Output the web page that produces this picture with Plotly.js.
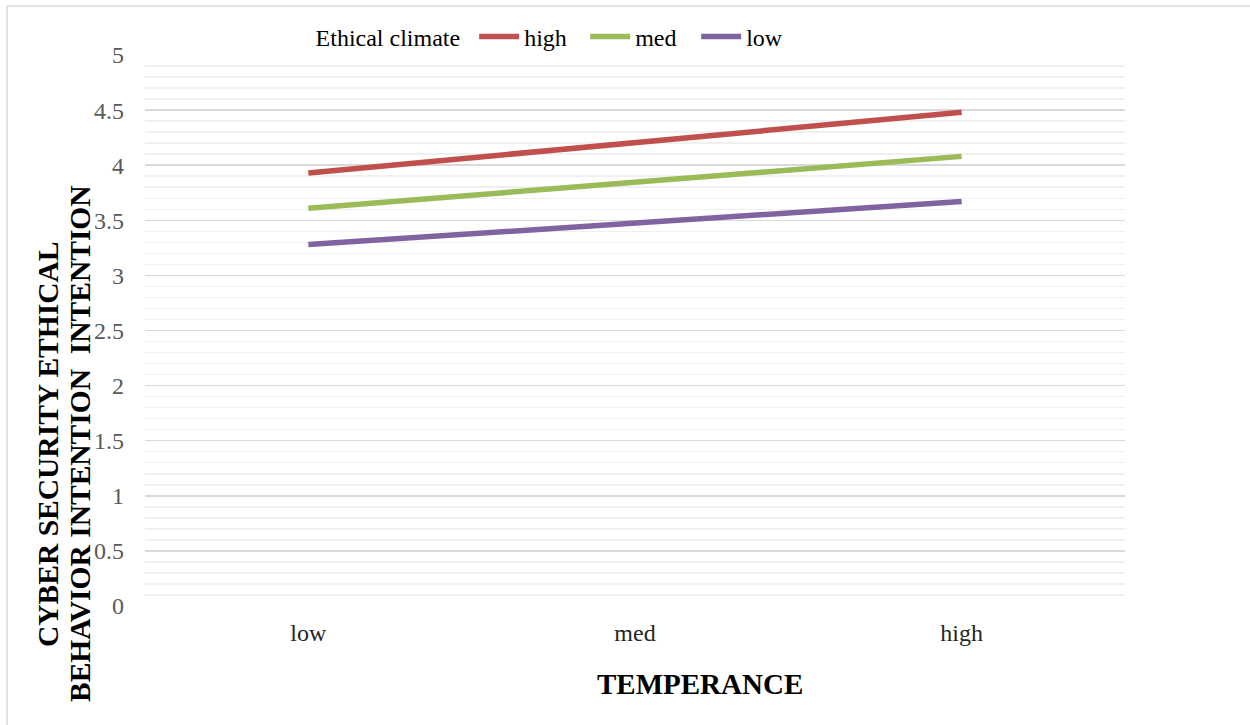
<!DOCTYPE html>
<html>
<head>
<meta charset="utf-8">
<script src="https://cdn.plot.ly/plotly-3.0.1.min.js"></script>
<style>html,body{margin:0;padding:0;background:#fff;}#chart{width:1250px;height:725px;}</style>
</head>
<body>
<div id="chart"></div>
<script>
const categories = ['low', 'med', 'high'];
const seriesNames = ['high', 'med', 'low'];
const highValues = [3.93, 4.20, 4.48];
const medValues = [3.61, 3.84, 4.08];
const lowValues = [3.28, 3.47, 3.67];
const yTickValues = [0, 0.5, 1, 1.5, 2, 2.5, 3, 3.5, 4, 4.5, 5];
const yTickLabels = ['0', '0.5', '1', '1.5', '2', '2.5', '3', '3.5', '4', '4.5', '5'];
const yTitleLines = ['CYBER SECURITY ETHICAL', 'BEHAVIOR INTENTION  INTENTION'];
const xTitle = 'TEMPERANCE';
const legendTitle = 'Ethical climate';
const colors = ['#C0504D', '#9BBB59', '#8064A2'];
const allValues = [highValues, medValues, lowValues];

const traces = allValues.map((vals, i) => ({
  type: 'scatter',
  mode: 'lines',
  x: categories,
  y: vals,
  name: seriesNames[i],
  line: {color: colors[i], width: 5.5, shape: 'linear'},
  hoverinfo: 'x+y+name'
}));

const font = 'Liberation Serif';

const layout = {
  width: 1250,
  height: 725,
  margin: {l: 145, r: 125, t: 55, b: 119},
  paper_bgcolor: '#ffffff',
  plot_bgcolor: '#ffffff',
  font: {family: font, color: '#000'},
  showlegend: true,
  legend: {
    orientation: 'h',
    x: 0.172, xanchor: 'left',
    y: 1.033, yanchor: 'middle',
    title: {text: legendTitle + ' ', font: {family: font, size: 24, color: '#000'}, side: 'left'},
    font: {family: font, size: 24, color: '#000'},
    itemwidth: 40,
    entrywidth: 56,
    entrywidthmode: 'pixels',
    bgcolor: 'rgba(0,0,0,0)'
  },
  xaxis: {
    type: 'category',
    categoryorder: 'array',
    categoryarray: categories,
    range: [-0.5, 2.5],
    showgrid: false,
    zeroline: false,
    showline: false,
    ticks: '',
    tickfont: {family: font, size: 24, color: '#262626'},
    ticklabelstandoff: 10
  },
  yaxis: {
    range: [0, 5],
    tickvals: yTickValues,
    ticktext: yTickLabels,
    showgrid: true,
    gridcolor: '#d9d9d9',
    gridwidth: 1.5,
    zeroline: false,
    showline: false,
    ticks: '',
    ticklabelstandoff: 20,
    tickfont: {family: font, size: 24, color: '#595959'},
    minor: {dtick: 0.1, tick0: 0, showgrid: true, gridcolor: '#f0f0f0', gridwidth: 1.5, ticks: ''}
  },
  annotations: [
    {
      xref: 'paper', yref: 'paper',
      x: -0.099, y: 0.294,
      xanchor: 'center', yanchor: 'middle',
      textangle: -90,
      showarrow: false,
      text: '<b>' + yTitleLines[0] + '</b>',
      font: {family: font, size: 29.5, color: '#000'}
    },
    {
      xref: 'paper', yref: 'paper',
      x: -0.0663, y: 0.294,
      xanchor: 'center', yanchor: 'middle',
      textangle: -90,
      showarrow: false,
      text: '<b>' + yTitleLines[1] + '</b>',
      font: {family: font, size: 29.5, color: '#000'}
    },
    {
      xref: 'paper', yref: 'paper',
      x: 0.5663, y: -0.1416,
      xanchor: 'center', yanchor: 'middle',
      showarrow: false,
      text: '<b>' + xTitle + '</b>',
      font: {family: font, size: 29, color: '#000'}
    }
  ],
  shapes: [
    {type: 'line', xref: 'paper', yref: 'paper', x0: -0.1408, x1: 1.2, y0: 1.0889, y1: 1.0889, line: {color: '#d9d9d9', width: 1.5}},
    {type: 'line', xref: 'paper', yref: 'paper', x0: -0.1408, x1: -0.1408, y0: 1.0889, y1: -0.25, line: {color: '#d9d9d9', width: 1.5}}
  ]
};

Plotly.newPlot('chart', traces, layout, {displayModeBar: false, staticPlot: true});
</script>
</body>
</html>
